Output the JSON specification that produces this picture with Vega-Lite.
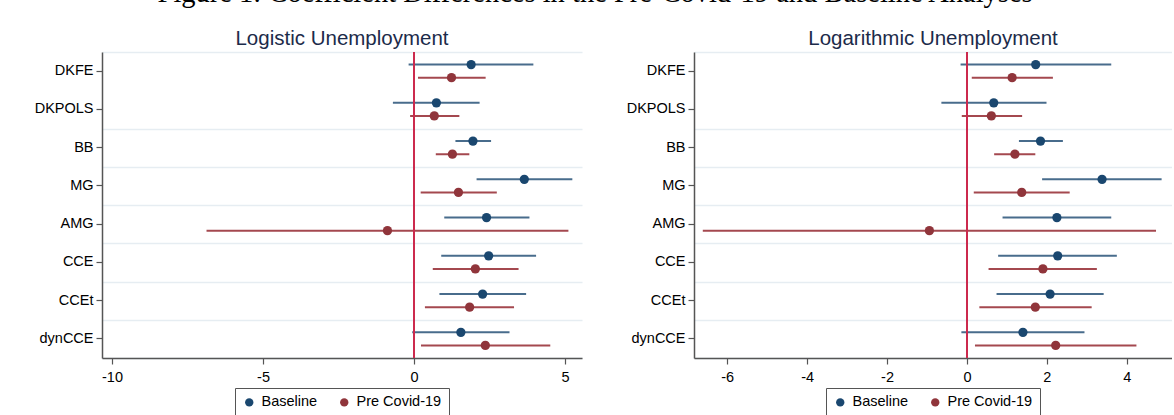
{
  "$schema": "https://vega.github.io/schema/vega-lite/v6.json",
  "background": "white",
  "padding": {"left": 34, "top": -22, "right": 0, "bottom": 0},
  "title": {"text": "Figure 1: Coefficient Differences in the Pre-Covid-19 and Baseline Analyses", "font": "Liberation Serif", "fontSize": 28.5, "fontWeight": "normal", "color": "#000000", "anchor": "middle", "offset": 21.5, "dx": -8},
  "config": {
    "font": "Liberation Sans",
    "view": {"stroke": null},
    "axis": {"labelFont": "Liberation Sans", "labelFontSize": 14.5, "labelColor": "#000000", "domainColor": "#555555", "domainWidth": 1.5, "tickColor": "#555555", "tickWidth": 1.2, "tickSize": 6, "title": null},
    "legend": {"labelFont": "Liberation Sans"}
  },
  "data": {"values": [
    {"panel": "Logistic", "model": "DKFE", "series": "Baseline", "est": 1.89, "lo": -0.18, "hi": 3.95},
    {"panel": "Logistic", "model": "DKFE", "series": "Pre Covid-19", "est": 1.24, "lo": 0.13, "hi": 2.37},
    {"panel": "Logistic", "model": "DKPOLS", "series": "Baseline", "est": 0.74, "lo": -0.70, "hi": 2.17},
    {"panel": "Logistic", "model": "DKPOLS", "series": "Pre Covid-19", "est": 0.67, "lo": -0.13, "hi": 1.50},
    {"panel": "Logistic", "model": "BB", "series": "Baseline", "est": 1.95, "lo": 1.37, "hi": 2.55},
    {"panel": "Logistic", "model": "BB", "series": "Pre Covid-19", "est": 1.27, "lo": 0.72, "hi": 1.83},
    {"panel": "Logistic", "model": "MG", "series": "Baseline", "est": 3.65, "lo": 2.07, "hi": 5.24},
    {"panel": "Logistic", "model": "MG", "series": "Pre Covid-19", "est": 1.47, "lo": 0.22, "hi": 2.74},
    {"panel": "Logistic", "model": "AMG", "series": "Baseline", "est": 2.40, "lo": 1.00, "hi": 3.82},
    {"panel": "Logistic", "model": "AMG", "series": "Pre Covid-19", "est": -0.88, "lo": -6.87, "hi": 5.11},
    {"panel": "Logistic", "model": "CCE", "series": "Baseline", "est": 2.47, "lo": 0.90, "hi": 4.04},
    {"panel": "Logistic", "model": "CCE", "series": "Pre Covid-19", "est": 2.03, "lo": 0.62, "hi": 3.46},
    {"panel": "Logistic", "model": "CCEt", "series": "Baseline", "est": 2.27, "lo": 0.84, "hi": 3.71},
    {"panel": "Logistic", "model": "CCEt", "series": "Pre Covid-19", "est": 1.84, "lo": 0.36, "hi": 3.31},
    {"panel": "Logistic", "model": "dynCCE", "series": "Baseline", "est": 1.55, "lo": -0.06, "hi": 3.16},
    {"panel": "Logistic", "model": "dynCCE", "series": "Pre Covid-19", "est": 2.36, "lo": 0.23, "hi": 4.51},
    {"panel": "Logarithmic", "model": "DKFE", "series": "Baseline", "est": 1.72, "lo": -0.16, "hi": 3.61},
    {"panel": "Logarithmic", "model": "DKFE", "series": "Pre Covid-19", "est": 1.13, "lo": 0.12, "hi": 2.15},
    {"panel": "Logarithmic", "model": "DKPOLS", "series": "Baseline", "est": 0.67, "lo": -0.64, "hi": 1.99},
    {"panel": "Logarithmic", "model": "DKPOLS", "series": "Pre Covid-19", "est": 0.61, "lo": -0.13, "hi": 1.38},
    {"panel": "Logarithmic", "model": "BB", "series": "Baseline", "est": 1.84, "lo": 1.30, "hi": 2.40},
    {"panel": "Logarithmic", "model": "BB", "series": "Pre Covid-19", "est": 1.20, "lo": 0.68, "hi": 1.71},
    {"panel": "Logarithmic", "model": "MG", "series": "Baseline", "est": 3.38, "lo": 1.88, "hi": 4.87},
    {"panel": "Logarithmic", "model": "MG", "series": "Pre Covid-19", "est": 1.37, "lo": 0.17, "hi": 2.57},
    {"panel": "Logarithmic", "model": "AMG", "series": "Baseline", "est": 2.25, "lo": 0.89, "hi": 3.61},
    {"panel": "Logarithmic", "model": "AMG", "series": "Pre Covid-19", "est": -0.94, "lo": -6.61, "hi": 4.73},
    {"panel": "Logarithmic", "model": "CCE", "series": "Baseline", "est": 2.27, "lo": 0.78, "hi": 3.75},
    {"panel": "Logarithmic", "model": "CCE", "series": "Pre Covid-19", "est": 1.90, "lo": 0.54, "hi": 3.25},
    {"panel": "Logarithmic", "model": "CCEt", "series": "Baseline", "est": 2.08, "lo": 0.74, "hi": 3.42},
    {"panel": "Logarithmic", "model": "CCEt", "series": "Pre Covid-19", "est": 1.71, "lo": 0.31, "hi": 3.12},
    {"panel": "Logarithmic", "model": "dynCCE", "series": "Baseline", "est": 1.40, "lo": -0.14, "hi": 2.94},
    {"panel": "Logarithmic", "model": "dynCCE", "series": "Pre Covid-19", "est": 2.22, "lo": 0.20, "hi": 4.24}
  ]},
  "spacing": 44,
  "resolve": {"legend": {"color": "independent"}, "scale": {"x": "independent"}},
  "hconcat": [
    {
      "width": 480, "height": 306,
      "transform": [{"filter": "datum.panel === 'Logistic'"}],
      "title": {"text": "Logistic Unemployment", "fontSize": 20.5, "fontWeight": "normal", "color": "#1c2b4a", "font": "Liberation Sans", "anchor": "middle", "offset": 2},
      "resolve": {"axis": {"y": "independent"}},
      "layer": [
        {
          "mark": {"type": "rule", "strokeWidth": 2},
          "encoding": {
            "y": {"field": "model", "type": "nominal", "sort": ["DKFE","DKPOLS","BB","MG","AMG","CCE","CCEt","dynCCE"], "scale": {"type": "band", "paddingInner": 0, "paddingOuter": 0},
                  "axis": {"orient": "right", "labels": false, "ticks": false, "domain": false, "grid": true, "tickBand": "extent", "gridColor": "#e6edf2", "gridWidth": 1.5, "gridOpacity": {"condition": {"test": "datum.value === 'DKFE'", "value": 0}, "value": 1}}},
            "yOffset": {"field": "series", "type": "nominal", "sort": ["Baseline","Pre Covid-19"], "scale": {"paddingInner": 0, "paddingOuter": 0.47}},
            "x": {"field": "lo", "type": "quantitative", "scale": {"domain": [-10.33, 5.56], "nice": false, "zero": false}, "axis": {"values": [-10, -5, 0, 5], "grid": false, "labelPadding": 6, "labelExpr": "replace(datum.label, '\u2212', '-')"}},
            "x2": {"field": "hi"},
            "stroke": {"field": "series", "type": "nominal", "scale": {"domain": ["Baseline","Pre Covid-19"], "range": ["#486c8c","#a4484f"]}, "legend": null}
          }
        },
        {
          "mark": {"type": "rule", "color": "#cc2b4e", "strokeWidth": 1.5},
          "encoding": {"x": {"datum": 0, "type": "quantitative"}}
        },
        {
          "mark": {"type": "point", "filled": true, "shape": "circle", "size": 85, "opacity": 1},
          "encoding": {
            "y": {"field": "model", "type": "nominal", "sort": ["DKFE","DKPOLS","BB","MG","AMG","CCE","CCEt","dynCCE"], "axis": {"orient": "left", "grid": false, "labelPadding": 3}},
            "yOffset": {"field": "series", "type": "nominal", "sort": ["Baseline","Pre Covid-19"]},
            "x": {"field": "est", "type": "quantitative"},
            "color": {"field": "series", "type": "nominal", "scale": {"domain": ["Baseline","Pre Covid-19"], "range": ["#1a476f","#90353b"]},
                      "legend": {"orient": "none", "legendX": 133, "legendY": 336, "direction": "horizontal", "title": null, "symbolType": "circle", "symbolSize": 70, "symbolStrokeWidth": 0, "symbolOpacity": 1, "labelFontSize": 14.5, "labelColor": "#000000", "strokeColor": "#555555", "fillColor": "white", "padding": 7, "columnPadding": 19, "labelOffset": 5}}
          }
        }
      ]
    },
    {
      "width": 478, "height": 306,
      "transform": [{"filter": "datum.panel === 'Logarithmic'"}],
      "title": {"text": "Logarithmic Unemployment", "fontSize": 20.5, "fontWeight": "normal", "color": "#1c2b4a", "font": "Liberation Sans", "anchor": "middle", "offset": 2},
      "resolve": {"axis": {"y": "independent"}},
      "layer": [
        {
          "mark": {"type": "rule", "strokeWidth": 2},
          "encoding": {
            "y": {"field": "model", "type": "nominal", "sort": ["DKFE","DKPOLS","BB","MG","AMG","CCE","CCEt","dynCCE"], "scale": {"type": "band", "paddingInner": 0, "paddingOuter": 0},
                  "axis": {"orient": "right", "labels": false, "ticks": false, "domain": false, "grid": true, "tickBand": "extent", "gridColor": "#e6edf2", "gridWidth": 1.5, "gridOpacity": {"condition": {"test": "datum.value === 'DKFE'", "value": 0}, "value": 1}}},
            "yOffset": {"field": "series", "type": "nominal", "sort": ["Baseline","Pre Covid-19"], "scale": {"paddingInner": 0, "paddingOuter": 0.47}},
            "x": {"field": "lo", "type": "quantitative", "scale": {"domain": [-6.83, 5.13], "nice": false, "zero": false}, "axis": {"values": [-6, -4, -2, 0, 2, 4], "grid": false, "labelPadding": 6, "labelExpr": "replace(datum.label, '\u2212', '-')"}},
            "x2": {"field": "hi"},
            "stroke": {"field": "series", "type": "nominal", "scale": {"domain": ["Baseline","Pre Covid-19"], "range": ["#486c8c","#a4484f"]}, "legend": null}
          }
        },
        {
          "mark": {"type": "rule", "color": "#cc2b4e", "strokeWidth": 1.5},
          "encoding": {"x": {"datum": 0, "type": "quantitative"}}
        },
        {
          "mark": {"type": "point", "filled": true, "shape": "circle", "size": 85, "opacity": 1},
          "encoding": {
            "y": {"field": "model", "type": "nominal", "sort": ["DKFE","DKPOLS","BB","MG","AMG","CCE","CCEt","dynCCE"], "axis": {"orient": "left", "grid": false, "labelPadding": 3}},
            "yOffset": {"field": "series", "type": "nominal", "sort": ["Baseline","Pre Covid-19"]},
            "x": {"field": "est", "type": "quantitative"},
            "color": {"field": "series", "type": "nominal", "scale": {"domain": ["Baseline","Pre Covid-19"], "range": ["#1a476f","#90353b"]},
                      "legend": {"orient": "none", "legendX": 132, "legendY": 336, "direction": "horizontal", "title": null, "symbolType": "circle", "symbolSize": 70, "symbolStrokeWidth": 0, "symbolOpacity": 1, "labelFontSize": 14.5, "labelColor": "#000000", "strokeColor": "#555555", "fillColor": "white", "padding": 7, "columnPadding": 19, "labelOffset": 5}}
          }
        }
      ]
    }
  ]
}
